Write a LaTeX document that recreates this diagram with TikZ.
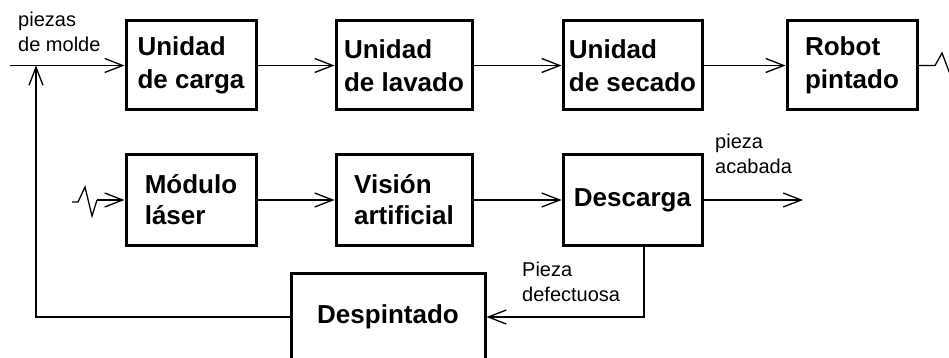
\documentclass[tikz,border=0pt]{standalone}
\usepackage{fontspec}
\setmainfont{Liberation Sans}
\usetikzlibrary{arrows.meta}
\tikzset{
  blk/.style={draw, line width=3pt, rectangle, inner sep=0pt, align=left,
    font=\fontsize{26}{31}\selectfont\bfseries},
  blktop/.style={blk, font=\fontsize{26}{33}\selectfont\bfseries},
  lbl/.style={inner sep=0pt, align=left, anchor=north west,
    font=\fontsize{20}{25}\selectfont},
  wire/.style={line width=1.3pt},
  arr/.style={wire, -{Straight Barb[length=18pt,width=14pt,line width=1.3pt]}},
}
\begin{document}
\begin{tikzpicture}[x=1pt,y=-1pt]
\useasboundingbox (0,0) rectangle (949,358);
% row 1
\node[blktop, minimum width=130pt, minimum height=89pt] (carga) at (191,65.5) {Unidad\\de carga};
\node[blktop, minimum width=136pt, minimum height=89pt] (lavado) at (404,65.5) {Unidad\\de lavado};
\node[blktop, minimum width=139pt, minimum height=89pt] (secado) at (632.5,65.5) {Unidad\\de secado};
\node[blktop, minimum width=130pt, minimum height=89pt] (robot) at (852,65.5) {Robot\\pintado};
% row 2
\node[blk, minimum width=130pt, minimum height=90pt] (laser) at (191,200) {Módulo\\láser};
\node[blk, minimum width=136pt, minimum height=90pt] (vision) at (404,200) {Visión\\artificial};
\node[blk, minimum width=139pt, minimum height=90pt] (descarga) at (632.5,200) {Descarga};
% row 3
\node[blk, minimum width=194pt, minimum height=88pt] (despintado) at (388,317) {Despintado};
% free ends
\coordinate (in) at (10,65.5);
\coordinate (fb) at (36,65.5);
\coordinate (out) at (803,200);
\coordinate (z1) at (935,65.5);
\coordinate (z2) at (942,53);
\coordinate (z3) at (953,82);
\coordinate (w0) at (72,202);
\coordinate (w1) at (78,202);
\coordinate (w2) at (85,187);
\coordinate (w3) at (92,216);
\coordinate (w4) at (97,200);
% connectors
\draw[arr] (in) -- (carga.west);
\draw[arr] (carga.east) -- (lavado.west);
\draw[arr] (lavado.east) -- (secado.west);
\draw[arr] (secado.east) -- (robot.west);
\draw[wire] (robot.east) -- (z1) -- (z2) -- (z3);
\draw[wire] (w0) -- (w1) -- (w2) -- (w3) -- (w4);
\draw[arr] (w4) -- (laser.west);
\draw[arr] (laser.east) -- (vision.west);
\draw[arr] (vision.east) -- (descarga.west);
\draw[arr] (descarga.east) -- (out);
\draw[arr] ([xshift=11.5pt]descarga.south) |- (despintado.east);
\draw[arr] (despintado.west) -| (fb);
% labels
\node[lbl] (l1) at (18,12) {piezas\\de molde};
\node[lbl] (l2) at (715,134) {pieza\\acabada};
\node[lbl] (l3) at (522,262) {Pieza\\defectuosa};
\end{tikzpicture}
\end{document}
